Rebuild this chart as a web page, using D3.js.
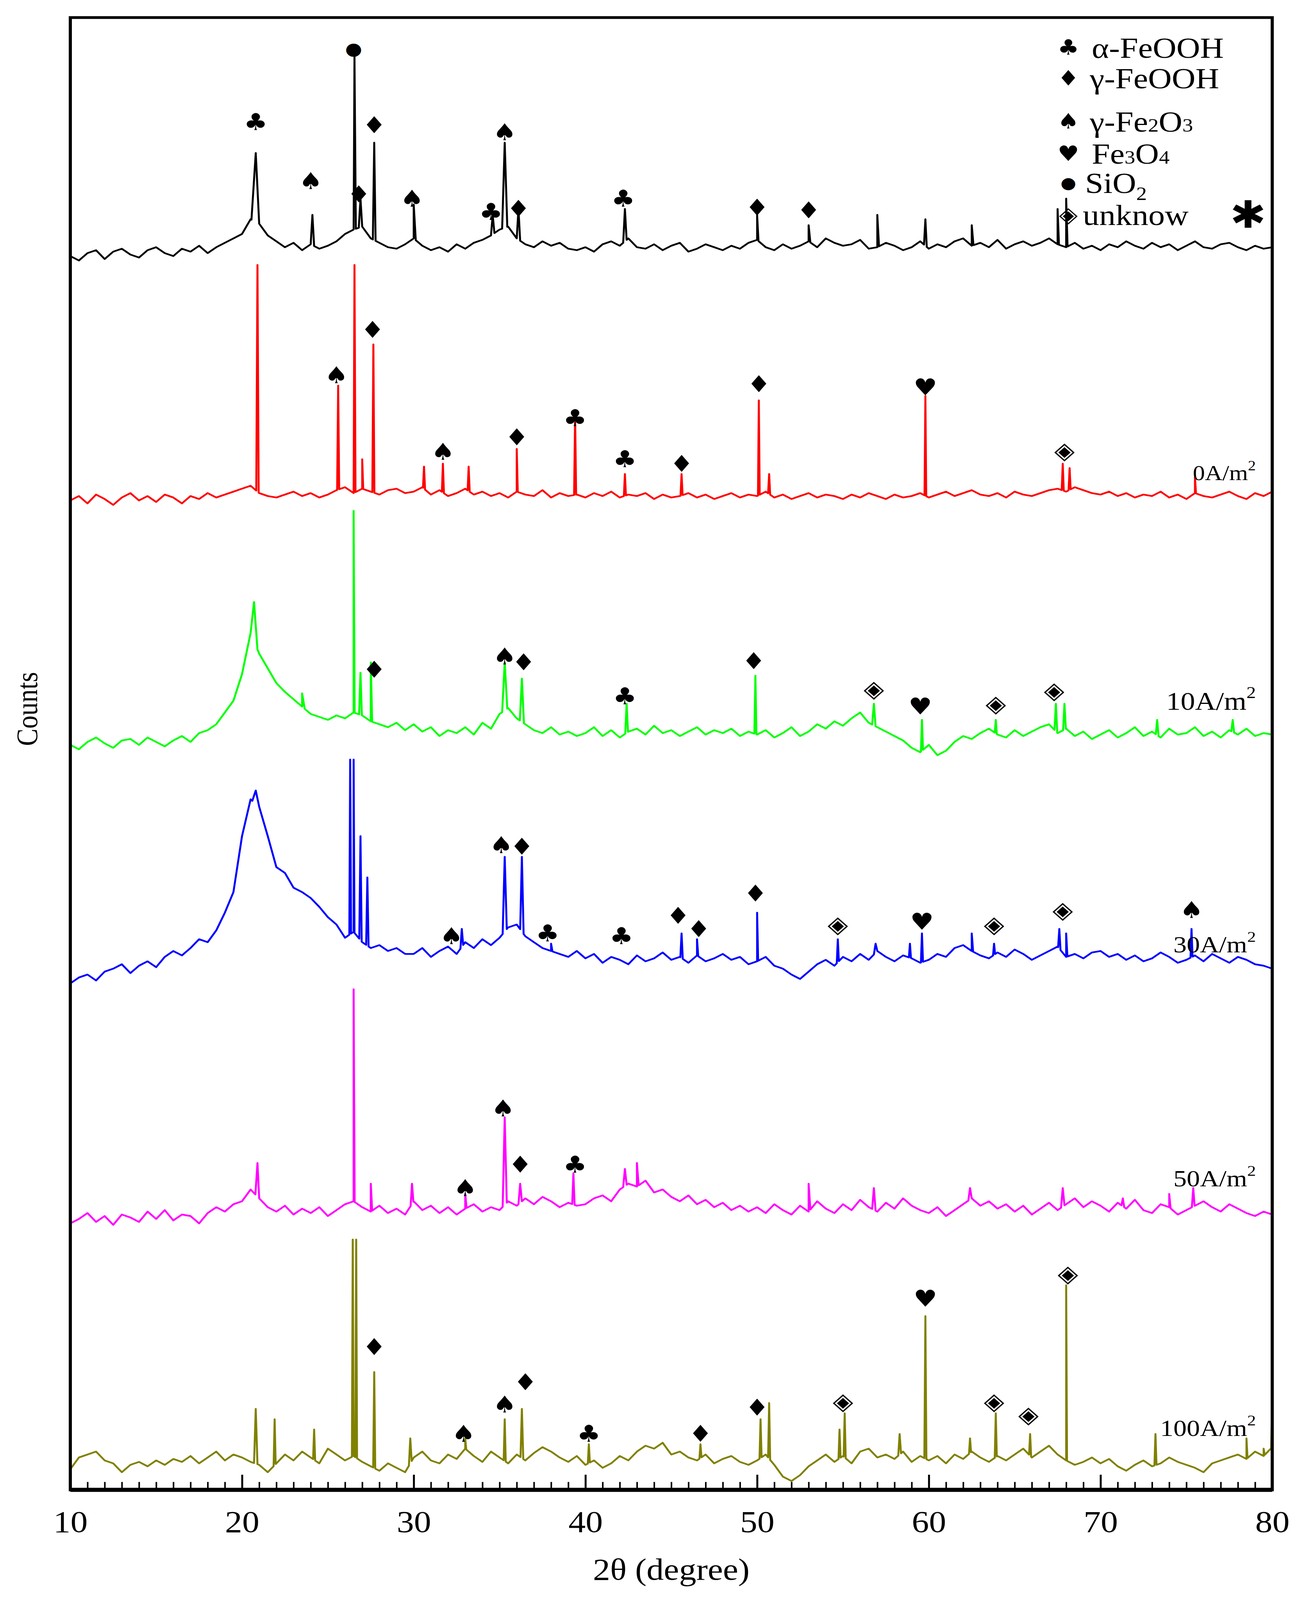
<!DOCTYPE html>
<html>
<head>
  <meta http-equiv="Content-Type" content="text/html;charset=utf-8" />
  <style type="text/css">
    html, body { margin: 0; padding: 0; background: #fff; overflow: hidden; }
    svg { display: block; width: 100vw; height: 100vh; }
    text { font-family: "Liberation Serif", "DejaVu Serif", serif; }
    .sym { font-family: "DejaVu Sans", sans-serif; }
  </style>
</head>
<body>
  <div id="svgContainer"></div>
  <script src="https://d3js.org/d3.v7.min.js"></script>
  <script type="text/javascript">
    var W = 3323, H = 4649;
    var padL = 180, padR = 3257, padT = 51, padB = 4329;

    // x grid of the background arrays: 10, 10.5, ... 80 (degrees)
    // background values are in tenths of a count unit, relative to each trace's offset
    var offsets = [83.8, 67.2, 50.6, 35.4, 18.4, 1.4];
    var colors = ["#000000", "#ff0000", "#00ff00", "#0000ff", "#ff00ff", "#808000"];
    var labels = ["", "0A/m", "10A/m", "30A/m", "50A/m", "100A/m"];

    var bgBlack = [0,-3,2,4,-2,3,5,1,-1,4,6,2,0,5,3,7,2,6,9,12,
      15,25,22,14,10,6,9,4,8,5,7,10,15,18,20,12,9,6,5,8,
      12,7,4,6,3,8,5,9,11,14,18,20,12,8,6,10,7,9,5,4,
      6,3,8,10,7,12,6,5,8,4,7,9,3,5,8,6,4,7,5,9,
      11,6,4,8,5,7,10,6,12,9,7,8,11,5,6,9,7,4,6,10,
      5,8,6,10,12,7,9,6,11,5,8,10,7,9,12,8,6,9,5,7,
      4,8,6,10,7,5,9,6,8,4,7,10,6,5,8,9,6,4,7,5,6];
    var bgRed = [0,3,-2,4,1,-3,2,5,0,3,-1,4,2,-2,3,1,5,2,4,6,
      8,10,5,3,2,4,6,3,5,2,4,7,9,5,8,6,4,7,8,5,
      6,9,4,7,3,5,8,4,6,3,5,2,6,4,3,7,2,5,3,4,
      2,5,3,6,2,4,3,5,1,4,2,3,5,2,4,1,3,5,2,4,
      3,6,2,4,1,3,5,2,4,3,1,4,2,5,3,1,4,2,3,5,
      2,4,6,3,5,7,4,3,5,2,6,4,3,5,7,8,6,9,7,5,
      4,6,3,5,2,4,3,6,2,4,1,5,3,2,4,6,3,1,5,3,6];
    var bgGreen = [0,-3,2,5,1,-2,3,4,0,5,2,-1,3,6,2,8,10,14,22,30,
      48,76,62,52,42,36,31,26,21,19,17,20,18,22,20,16,14,12,15,10,
      14,9,12,6,10,8,12,7,15,11,21,25,18,14,10,8,12,7,9,6,
      8,12,6,10,5,9,11,7,13,8,10,6,9,12,7,10,8,11,6,9,
      7,10,5,8,12,6,9,14,11,16,13,18,22,15,12,9,6,3,-2,-5,
      0,-7,-4,2,6,4,8,11,7,5,10,6,9,12,14,8,11,6,9,4,
      7,10,5,8,12,6,9,5,11,7,8,12,6,9,5,10,7,11,6,8,7];
    var bgBlue = [-10,-6,-4,-8,-2,0,3,-3,2,5,1,8,12,9,14,20,18,26,38,52,
      90,115,110,90,69,65,55,52,48,42,35,30,21,25,18,14,16,12,14,10,
      10,14,8,12,15,10,18,14,20,16,21,28,30,22,18,14,12,10,8,12,
      7,10,4,8,6,3,9,5,7,11,6,8,4,9,5,7,10,6,8,3,
      5,8,2,0,-4,-7,-2,3,6,2,8,5,10,6,12,8,5,9,7,4,
      6,10,8,14,16,12,9,7,11,8,13,10,6,9,12,15,8,10,7,11,
      12,8,10,6,9,5,7,11,8,4,6,9,5,10,7,4,8,6,3,2,0];
    var bgMagenta = [-3,0,4,-2,2,-4,3,1,-2,5,0,6,-1,3,2,-3,4,8,5,10,
      12,20,14,8,5,9,3,7,4,8,2,6,10,12,8,5,9,4,7,3,
      12,6,9,4,8,3,7,10,5,8,6,12,9,14,10,15,12,8,11,9,
      10,14,16,12,20,24,22,26,18,20,15,12,16,10,13,8,11,6,9,5,
      8,4,10,6,3,9,5,12,7,4,10,6,13,8,5,11,7,14,9,6,
      4,8,2,6,10,14,9,12,7,10,5,9,3,7,11,6,10,14,8,12,
      9,5,11,7,13,6,4,10,8,3,6,9,12,8,5,10,7,4,2,5,3];
    var bgOlive = [0,8,10,12,6,4,-2,3,5,2,6,3,7,5,9,4,8,12,6,10,
      8,5,3,-2,4,10,6,12,8,4,14,10,6,9,5,2,-1,4,1,-2,
      8,12,6,4,10,7,14,9,5,12,8,4,10,6,11,15,12,8,5,9,
      3,6,1,4,9,6,12,16,14,18,10,12,8,6,10,4,7,9,5,3,
      6,10,3,-5,-8,-4,2,6,10,5,9,4,12,14,8,10,7,12,5,9,
      6,9,4,10,7,12,8,5,9,6,10,14,8,12,16,10,6,3,5,8,
      4,7,2,-1,3,6,2,4,8,5,3,1,-2,4,6,8,10,7,12,9,15];
    var backgrounds = [bgBlack, bgRed, bgGreen, bgBlue, bgMagenta, bgOlive];

    // peaks: [2theta, top (count units), half width (degrees)]
    var pkBlack = [[20.8,90.8,.25],[24.1,86.6,.1],[26.55,97.4,.08],[26.9,87.7,.1],[27.7,91.5,.08],[30,87.3,.12],
      [34.6,86.6,.1],[35.3,91.5,.15],[36.1,87.0,.1],[42.3,87.0,.1],[50,86.6,.08],[53,85.9,.1],[57,86.6,.1],
      [59.8,86.3,.08],[62.5,85.9,.1],[67.5,87.0,.08],[68,87.7,.08]];
    var pkRed = [[20.9,83.2,.07],[25.6,75.0,.06],[26.55,83.2,.06],[27.0,70.0,.06],[27.65,77.8,.06],[30.6,69.5,.06],
      [31.7,69.7,.06],[33.2,69.5,.06],[36.0,70.7,.06],[39.4,72.9,.06],[42.3,69.0,.06],[45.6,69.0,.06],
      [50.1,74.0,.05],[50.7,69.0,.06],[59.8,74.3,.05],[67.8,69.7,.06],[68.2,69.4,.06],[75.5,68.8,.06]];
    var pkGreen = [[20.7,60.3,.2],[23.5,54.1,.15],[26.5,66.5,.06],[26.9,55.5,.08],[27.5,56.2,.08],[35.3,56.2,.15],
      [36.3,55.1,.12],[42.4,53.4,.08],[49.9,55.3,.06],[56.8,53.4,.1],[59.6,52.3,.06],[63.9,52.3,.06],
      [67.4,53.4,.08],[67.9,53.4,.08],[73.3,52.3,.08],[77.7,52.3,.08]];
    var pkBlue = [[20.8,47.5,.2],[26.3,49.6,.05],[26.5,49.6,.05],[26.9,44.4,.07],[27.3,41.6,.07],[32.8,38.1,.08],
      [35.3,43.0,.12],[36.3,43.0,.1],[38,37.1,.08],[45.6,37.8,.07],[46.5,37.4,.07],[50,39.2,.06],[54.7,37.4,.06],
      [56.9,37.1,.1],[58.9,37.1,.06],[59.6,37.8,.06],[62.5,37.8,.08],[63.8,37.1,.06],[67.6,38.1,.07],[68,37.8,.07],
      [75.3,38.1,.06]];
    var pkMagenta = [[20.9,22.2,.12],[26.5,34.0,.06],[27.5,20.8,.08],[29.9,20.8,.08],[33,20.1,.08],[35.3,25.3,.12],
      [36.2,20.8,.1],[39.3,21.5,.07],[42.3,21.8,.1],[43,22.2,.1],[53,20.8,.1],[56.8,20.5,.1],[62.4,20.5,.1],
      [67.8,20.5,.1],[71.3,19.8,.08],[74,20.1,.08],[75.4,20.5,.08]];
    var pkOlive = [[20.8,5.5,.1],[21.9,4.8,.06],[24.2,4.1,.06],[26.45,17.0,.05],[26.65,17.0,.05],[27.7,8.0,.06],
      [29.8,3.5,.08],[33,3.5,.06],[35.3,4.8,.06],[36.3,5.5,.08],[40.2,3.1,.06],[46.7,3.1,.06],[50.2,4.8,.06],
      [50.7,5.9,.06],[54.8,4.1,.06],[55.1,5.2,.06],[58.3,3.8,.08],[59.8,11.8,.06],[62.4,3.5,.06],[63.9,5.2,.06],
      [65.9,3.8,.06],[68,13.9,.05],[73.2,3.8,.06],[78.5,3.5,.06],[79.5,2.8,.06],[79.97,4.8,.03]];
    var peaks = [pkBlack, pkRed, pkGreen, pkBlue, pkMagenta, pkOlive];

    // phase markers: [2theta, y (count units), symbol]
    var markers = [
      [26.5,97.9,"●"],[20.8,92.9,"♣"],[27.7,92.7,"♦"],[35.3,92.2,"♠"],[24,88.9,"♠"],[26.8,88.0,"♦"],
      [29.9,87.7,"♠"],[34.5,86.8,"♣"],[36.1,87.0,"♦"],[42.2,87.7,"♣"],[50,87.1,"♦"],[53,86.9,"♦"],
      [25.5,75.7,"♠"],[27.6,78.8,"♦"],[31.7,70.5,"♠"],[36,71.5,"♦"],[39.4,72.8,"♣"],[42.3,70.0,"♣"],
      [45.6,69.7,"♦"],[50.1,75.1,"♦"],[59.8,74.9,"♥"],[67.9,70.6,"◈"],
      [27.7,55.7,"♦"],[35.3,56.6,"♠"],[36.4,56.2,"♦"],[42.3,53.9,"♣"],[49.8,56.3,"♦"],[56.8,54.4,"◈"],
      [59.5,53.2,"♥"],[63.9,53.4,"◈"],[67.3,54.3,"◈"],
      [35.1,43.8,"♠"],[36.3,43.7,"♦"],[32.2,37.6,"♠"],[37.8,37.8,"♣"],[42.1,37.6,"♣"],[45.4,39.0,"♦"],
      [46.6,38.1,"♦"],[49.9,40.5,"♦"],[54.7,38.4,"◈"],[59.6,38.6,"♥"],[63.8,38.4,"◈"],[67.8,39.4,"◈"],
      [75.3,39.4,"♠"],
      [35.2,25.9,"♠"],[36.2,22.1,"♦"],[39.4,22.1,"♣"],[33,20.5,"♠"],
      [27.7,9.7,"♦"],[59.8,13.0,"♥"],[68.1,14.7,"◈"],[36.5,7.3,"♦"],[35.3,5.8,"♠"],[32.9,3.8,"♠"],
      [40.2,3.8,"♣"],[46.7,3.8,"♦"],[50,5.6,"♦"],[55,6.0,"◈"],[63.8,6.0,"◈"],[65.8,5.1,"◈"]
    ];

    var legendSyms = ["♣", "♦", "♠", "♥", "●", "◈"];
    var xTicks = [10, 20, 30, 40, 50, 60, 70, 80];

    // stretch to the full window so the frame sits where the reference has it
    var svg = d3.select("#svgContainer").append("svg")
      .attr("viewBox", "0 0 " + W + " " + H)
      .attr("preserveAspectRatio", "none");

    var x = d3.scaleLinear().domain([10, 80]).range([padL, padR]);
    var y = d3.scaleLinear().domain([0, 100]).range([padB, padT]);

    svg.append("clipPath").attr("id", "clip").append("rect")
      .attr("x", padL).attr("y", padT).attr("width", padR - padL).attr("height", padB - padT);

    // build each trace from background + peaks
    function tracePoints(bg, pk, off) {
      var pts = bg.map(function (v, i) { return [10 + i * 0.5, off + v / 10]; });
      function baseAt(t) {
        var i = Math.min(Math.floor((t - 10) * 2), bg.length - 2);
        var f = (t - 10) * 2 - i;
        return off + (bg[i] * (1 - f) + bg[i + 1] * f) / 10;
      }
      pk.forEach(function (p) {
        pts.push([p[0] - p[2], baseAt(p[0] - p[2])]);
        pts.push([p[0], p[1]]);
        pts.push([Math.min(p[0] + p[2], 80), baseAt(Math.min(p[0] + p[2], 80))]);
      });
      pts.sort(function (a, b) { return a[0] - b[0]; });
      return pts;
    }

    var line = d3.line().x(function (d) { return x(d[0]); }).y(function (d) { return y(d[1]); });

    var g = svg.append("g").attr("clip-path", "url(#clip)");
    backgrounds.forEach(function (bg, k) {
      g.append("path")
        .attr("d", line(tracePoints(bg, peaks[k], offsets[k])))
        .attr("fill", "none")
        .attr("stroke", colors[k])
        .attr("stroke-width", 5)
        .attr("stroke-linejoin", "round");
    });

    // markers
    svg.append("g").selectAll("text").data(markers).join("text")
      .attr("class", "sym")
      .attr("x", function (d) { return x(d[0]); })
      .attr("y", function (d) { return y(d[1]); })
      .attr("text-anchor", "middle")
      .attr("dominant-baseline", "central")
      .attr("font-size", function (d) { return d[2] == "●" ? 50 : 68; })
      .text(function (d) { return d[2]; });

    // series labels
    var labelPos = [[0, 0], [3215, 1373, 62], [3215, 2040, 74], [3215, 2745, 68], [3215, 3425, 68], [3215, 4150, 68]];
    labels.forEach(function (l, k) {
      if (!l) return;
      var t = svg.append("text")
        .attr("x", labelPos[k][0]).attr("y", labelPos[k][1] + 22)
        .attr("text-anchor", "end")
        .attr("font-size", labelPos[k][2]);
      t.append("tspan").text(l);
      t.append("tspan").attr("dy", -labelPos[k][2] * 0.45).attr("font-size", labelPos[k][2] * 0.65).text("2");
    });

    // legend
    var legY = [138, 227, 352, 446, 531, 624];
    var leg = svg.append("g");
    legendSyms.forEach(function (s, i) {
      leg.append("text").attr("class", "sym")
        .attr("x", 2735).attr("y", legY[i])
        .attr("text-anchor", "middle").attr("dominant-baseline", "central")
        .attr("font-size", s == "●" ? 46 : 62).text(s);
    });
    var fs = 84;
    function legText(i, xx, parts) {
      var t = leg.append("text").attr("x", xx).attr("y", legY[i] + 30).attr("font-size", fs);
      parts.forEach(function (p) {
        var ts = t.append("tspan").text(p[0]);
        if (p[1] == "small") ts.attr("font-size", fs * 0.65);
        if (p[1] == "sub") ts.attr("font-size", fs * 0.65).attr("dy", 20);
      });
    }
    legText(0, 2795, [["α-FeOOH"]]);
    legText(1, 2790, [["γ-FeOOH"]]);
    legText(2, 2790, [["γ-Fe"], ["2", "small"], ["O"], ["3", "small"]]);
    legText(3, 2795, [["Fe"], ["3", "small"], ["O"], ["4", "small"]]);
    legText(4, 2778, [["SiO"], ["2", "sub"]]);
    legText(5, 2772, [["unknow"]]);
    leg.append("text").attr("class", "sym").attr("x", 3195).attr("y", 624)
      .attr("text-anchor", "middle").attr("dominant-baseline", "central")
      .attr("font-size", 110).text("✱");

    // axes
    var minor = d3.range(11, 80).filter(function (v) { return v % 10 != 0; });
    svg.append("g").attr("transform", "translate(0," + padB + ")")
      .call(d3.axisBottom(x).tickValues(minor).tickSize(-23).tickFormat(""))
      .call(function (a) { a.select(".domain").remove(); a.selectAll("line").attr("stroke-width", 4); });
    svg.append("g").attr("transform", "translate(0," + padB + ")")
      .call(d3.axisBottom(x).tickValues(xTicks).tickSize(-44).tickPadding(60))
      .call(function (a) {
        a.select(".domain").remove();
        a.selectAll("line").attr("stroke-width", 5);
        a.selectAll("text").attr("font-size", 88).attr("font-family", "Liberation Serif").attr("fill", "#000");
      });

    svg.append("rect").attr("x", padL).attr("y", padT)
      .attr("width", padR - padL).attr("height", padB - padT)
      .attr("fill", "none").attr("stroke", "#000").attr("stroke-width", 8);
    svg.append("line").attr("x1", padL).attr("x2", padR).attr("y1", padB).attr("y2", padB)
      .attr("stroke", "#000").attr("stroke-width", 12);

    svg.append("text").attr("x", (padL + padR) / 2).attr("y", 4590)
      .attr("text-anchor", "middle").attr("font-size", 88).text("2θ (degree)");
    svg.append("text").attr("transform", "translate(95,2060) rotate(-90)")
      .attr("text-anchor", "middle").attr("font-size", 76).text("Counts");
  </script>
</body>
</html>
